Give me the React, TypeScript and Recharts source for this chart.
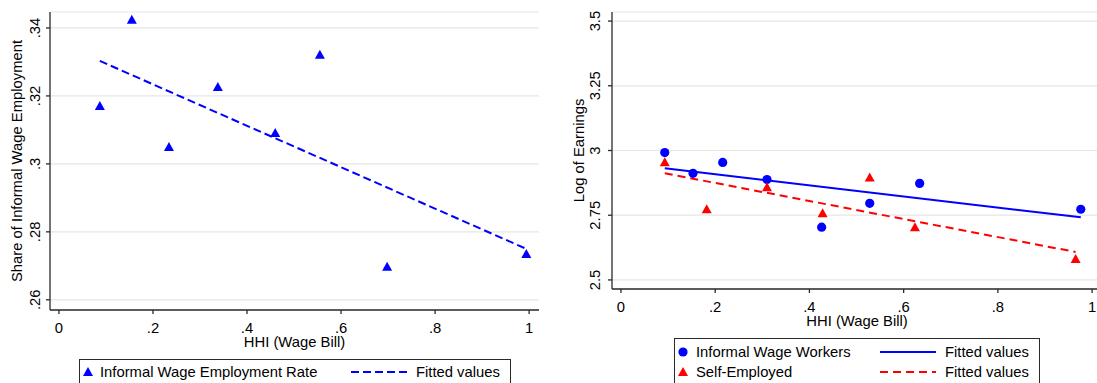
import React from 'react';
import { ScatterChart, Scatter, XAxis, YAxis, CartesianGrid } from 'recharts';

// ---- Left panel data ----
const leftHHI = [0.087, 0.155, 0.234, 0.338, 0.46, 0.555, 0.698, 0.994];
const leftShare = [0.317, 0.3424, 0.305, 0.3226, 0.3091, 0.3321, 0.2697, 0.2735];
const leftFitHHI = [0.087, 0.994];
const leftFitShare = [0.3303, 0.275];
const leftYTicks = [0.26, 0.28, 0.3, 0.32, 0.34];
const leftYLabels = ['.26', '.28', '.3', '.32', '.34'];

// ---- Right panel data ----
const wageHHI = [0.093, 0.153, 0.216, 0.31, 0.426, 0.528, 0.634, 0.976];
const wageEarn = [2.992, 2.912, 2.954, 2.888, 2.704, 2.796, 2.873, 2.773];
const selfHHI = [0.093, 0.182, 0.31, 0.428, 0.528, 0.624, 0.965];
const selfEarn = [2.955, 2.773, 2.858, 2.758, 2.896, 2.704, 2.581];
const wageFitHHI = [0.093, 0.976];
const wageFitEarn = [2.931, 2.742];
const selfFitHHI = [0.093, 0.965];
const selfFitEarn = [2.912, 2.608];
const rightYTicks = [2.5, 2.75, 3, 3.25, 3.5];
const rightYLabels = ['2.5', '2.75', '3', '3.25', '3.5'];

const xTicks = [0, 0.2, 0.4, 0.6, 0.8, 1];
const xLabels = ['0', '.2', '.4', '.6', '.8', '1'];

const BLUE = '#0000ff';
const RED = '#ff0000';
const FONT = '"Liberation Sans", Arial, Helvetica, sans-serif';
const FS = 14.8;
const AXIS = '#2a2a2a';
const GRID = '#e6e6e6';

const zip = (xs: number[], ys: number[]) => xs.map((x, i) => ({ x, y: ys[i] }));

const Triangle = (color: string) => (props: any) => {
  const { cx, cy } = props;
  if (cx == null || cy == null) return <g />;
  return <polygon points={`${cx},${cy - 5} ${cx + 5},${cy + 4} ${cx - 5},${cy + 4}`} fill={color} />;
};
const Dot = (color: string) => (props: any) => {
  const { cx, cy } = props;
  if (cx == null || cy == null) return <g />;
  return <circle cx={cx} cy={cy} r={4.6} fill={color} />;
};
const NoShape = () => <g />;

const makeYTick = (ticks: number[], labels: string[]) => (props: any) => {
  const { x, y, payload } = props;
  const i = ticks.findIndex((t) => Math.abs(t - payload.value) < 1e-9);
  return (
    <text x={x} y={y} transform={`rotate(-90 ${x} ${y})`} textAnchor="middle" fontSize={FS} fontFamily={FONT} fill="#000">
      {i >= 0 ? labels[i] : payload.value}
    </text>
  );
};
const XTick = (props: any) => {
  const { x, y, payload } = props;
  const i = xTicks.findIndex((t) => Math.abs(t - payload.value) < 1e-9);
  return (
    <text x={x} y={y} dy="0.71em" textAnchor="middle" fontSize={FS} fontFamily={FONT} fill="#000">
      {i >= 0 ? xLabels[i] : payload.value}
    </text>
  );
};

const XTitle = (props: any) => {
  const vb = props.viewBox || {};
  return (
    <text x={vb.x + vb.width / 2} y={vb.y + 37} textAnchor="middle" fontSize={FS} fontFamily={FONT} fill="#000">
      HHI (Wage Bill)
    </text>
  );
};
const YTitle = (props: any) => {
  const vb = props.viewBox || {};
  const x = vb.x + props.dx0;
  const y = vb.y + vb.height / 2;
  return (
    <text x={x} y={y} transform={`rotate(-90 ${x} ${y})`} textAnchor="middle" fontSize={FS} fontFamily={FONT} fill="#000">
      {props.text}
    </text>
  );
};

const LeftChart = () => (
  <ScatterChart width={545} height={383} margin={{ top: 12, right: 6, bottom: 43, left: 0 }}>
    <CartesianGrid horizontal vertical={false} stroke={GRID} strokeWidth={1.2} />
    <XAxis
      type="number"
      dataKey="x"
      domain={[-0.019, 1.021]}
      allowDataOverflow
      ticks={xTicks}
      height={30}
      tickSize={4}
      tickMargin={8}
      tick={<XTick />}
      stroke={AXIS}
      strokeWidth={1.3}
      label={<XTitle />}
    />
    <YAxis
      type="number"
      dataKey="y"
      domain={[0.257, 0.3447]}
      allowDataOverflow
      ticks={leftYTicks}
      width={50}
      tickSize={4}
      tickMargin={6}
      tick={makeYTick(leftYTicks, leftYLabels)}
      stroke={AXIS}
      strokeWidth={1.3}
      label={<YTitle dx0={22} text="Share of Informal Wage Employment" />}
    />
    <Scatter data={zip(leftFitHHI, leftFitShare)} shape={NoShape} line={{ stroke: BLUE, strokeWidth: 2, strokeDasharray: '8 4' }} isAnimationActive={false} />
    <Scatter data={zip(leftHHI, leftShare)} shape={Triangle(BLUE)} isAnimationActive={false} />
  </ScatterChart>
);

const RightChart = () => (
  <ScatterChart width={552} height={383} margin={{ top: 12, right: 0, bottom: 64, left: 0 }}>
    <CartesianGrid horizontal vertical={false} stroke={GRID} strokeWidth={1.2} />
    <XAxis
      type="number"
      dataKey="x"
      domain={[-0.019, 1.021]}
      allowDataOverflow
      ticks={xTicks}
      height={30}
      tickSize={4}
      tickMargin={8}
      tick={<XTick />}
      stroke={AXIS}
      strokeWidth={1.3}
      label={<XTitle />}
    />
    <YAxis
      type="number"
      dataKey="y"
      domain={[2.465, 3.535]}
      allowDataOverflow
      ticks={rightYTicks}
      width={62}
      tickSize={4}
      tickMargin={8}
      tick={makeYTick(rightYTicks, rightYLabels)}
      stroke={AXIS}
      strokeWidth={1.3}
      label={<YTitle dx0={34} text="Log of Earnings" />}
    />
    <Scatter data={zip(wageFitHHI, wageFitEarn)} shape={NoShape} line={{ stroke: BLUE, strokeWidth: 2 }} isAnimationActive={false} />
    <Scatter data={zip(selfFitHHI, selfFitEarn)} shape={NoShape} line={{ stroke: RED, strokeWidth: 2, strokeDasharray: '8 5' }} isAnimationActive={false} />
    <Scatter data={zip(wageHHI, wageEarn)} shape={Dot(BLUE)} isAnimationActive={false} />
    <Scatter data={zip(selfHHI, selfEarn)} shape={Triangle(RED)} isAnimationActive={false} />
  </ScatterChart>
);

const Legends = () => (
  <svg width={1097} height={383} style={{ position: 'absolute', left: 0, top: 0, pointerEvents: 'none' }}>
    <g fontFamily={FONT} fontSize={FS} fill="#000">
      {/* left legend */}
      <rect x={79.5} y={359.5} width={431} height={40} fill="#fff" stroke={AXIS} strokeWidth={1} />
      <polygon points="88,367 93,376 83,376" fill={BLUE} />
      <text x={100} y={377}>Informal Wage Employment Rate</text>
      <line x1={351} y1={372} x2={407} y2={372} stroke={BLUE} strokeWidth={2} strokeDasharray="8 4" />
      <text x={416} y={377}>Fitted values</text>
      {/* right legend */}
      <rect x={674.5} y={338.5} width={365} height={60} fill="#fff" stroke={AXIS} strokeWidth={1} />
      <circle cx={683} cy={352} r={4.6} fill={BLUE} />
      <text x={696} y={357}>Informal Wage Workers</text>
      <line x1={880} y1={352} x2={936} y2={352} stroke={BLUE} strokeWidth={2} />
      <text x={945} y={357}>Fitted values</text>
      <polygon points="683,367 688,376 678,376" fill={RED} />
      <text x={696} y={377}>Self-Employed</text>
      <line x1={880} y1={372} x2={936} y2={372} stroke={RED} strokeWidth={2} strokeDasharray="8 5" />
      <text x={945} y={377}>Fitted values</text>
    </g>
  </svg>
);

export default function App() {
  return (
    <div style={{ position: 'absolute', left: 0, top: 0, width: 1097, height: 383, overflow: 'hidden', background: '#fff' }}>
      <div style={{ position: 'absolute', left: 0, top: 0 }}>
        <LeftChart />
      </div>
      <div style={{ position: 'absolute', left: 550, top: 0 }}>
        <RightChart />
      </div>
      <Legends />
    </div>
  );
}
